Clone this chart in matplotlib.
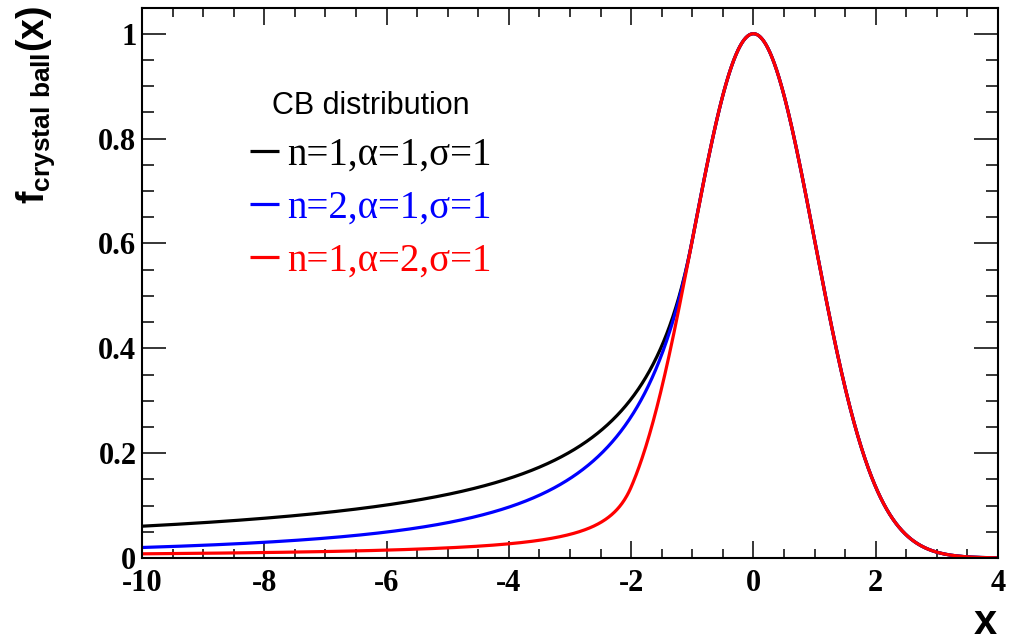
#!/usr/bin/env python

import numpy as np
import matplotlib

matplotlib.use("Agg")
import matplotlib.pyplot as plt
from matplotlib.ticker import MultipleLocator, FuncFormatter

# Crystal Ball shape parameters for each curve
n_values = [1, 2, 1]
alpha_values = [1, 1, 2]
sigma_values = [1, 1, 1]
mean = 0.0
colors = ["black", "blue", "red"]
labels = [
    "n=1,\u03b1=1,\u03c3=1",
    "n=2,\u03b1=1,\u03c3=1",
    "n=1,\u03b1=2,\u03c3=1",
]
x_range = (-10, 4)

plt.rcParams["mathtext.fontset"] = "custom"
plt.rcParams["mathtext.bf"] = "Liberation Sans:bold"
plt.rcParams["mathtext.rm"] = "Liberation Sans"


def crystal_ball(x, n, alpha, sigma, mu):
    # peak-normalised CB: gaussian core with a power-law left tail
    t = (x - mu) / sigma
    a = abs(alpha)
    A = (n / a) ** n * np.exp(-0.5 * a * a)
    B = n / a - a
    core = np.exp(-0.5 * t * t)
    tail = A * np.abs(B - t) ** (-n)
    return np.where(t > -a, core, tail)


fig = plt.figure(figsize=(10.16, 6.43), dpi=100)
ax = fig.add_axes([142 / 1016, 1 - 558 / 643, 856 / 1016, 550.5 / 643])

x = np.linspace(x_range[0], x_range[1], 1401)
for n, a, s, c, lab in zip(n_values, alpha_values, sigma_values, colors, labels):
    ax.plot(x, crystal_ball(x, n, a, s, mean), color=c, lw=2.3, label=lab,
            solid_capstyle="butt")

ax.set_xlim(*x_range)
ax.set_ylim(0, 1.05)

ax.xaxis.set_major_locator(MultipleLocator(2))
ax.xaxis.set_minor_locator(MultipleLocator(0.5))
ax.yaxis.set_major_locator(MultipleLocator(0.2))
ax.yaxis.set_minor_locator(MultipleLocator(0.05))
ax.yaxis.set_major_formatter(FuncFormatter(lambda v, p: f"{v:g}"))
ax.xaxis.set_major_formatter(FuncFormatter(lambda v, p: f"{v:g}"))

for side in ax.spines.values():
    side.set_linewidth(1.5)

ax.tick_params(which="both", direction="in", top=True, right=True, width=1.1)
ax.tick_params(axis="x", which="major", length=12, pad=8)
ax.tick_params(axis="x", which="minor", length=6.5)
ax.tick_params(axis="y", which="major", length=17, pad=4)
ax.tick_params(axis="y", which="minor", length=8.6)

for lbl in ax.get_xticklabels() + ax.get_yticklabels():
    lbl.set_family("Liberation Serif")
    lbl.set_weight("bold")
    lbl.set_fontsize(22)

# axis titles, ROOT-like placement at the top/right ends
fig.text(36 / 1016, 1 - 6 / 643, r"$\mathbf{f_{crystal\ ball}(x)}$",
         rotation=90, ha="center", va="top", fontsize=27)
fig.text(998 / 1016, 1 - 634 / 643, r"$\mathbf{x}$", ha="right",
         va="baseline", fontsize=30)

leg = ax.legend(
    loc="upper left",
    bbox_to_anchor=(108 / 856, 1 - 84 / 550.5),
    frameon=False,
    title="CB distribution",
    title_fontproperties={"family": "Liberation Sans", "size": 22},
    prop={"family": "Liberation Serif", "size": 28},
    labelcolor="linecolor",
    handlelength=0.75,
    handletextpad=0.2,
    labelspacing=0.4,
    borderaxespad=0,
    borderpad=0,
)

fig.savefig("out.png", dpi=100)
